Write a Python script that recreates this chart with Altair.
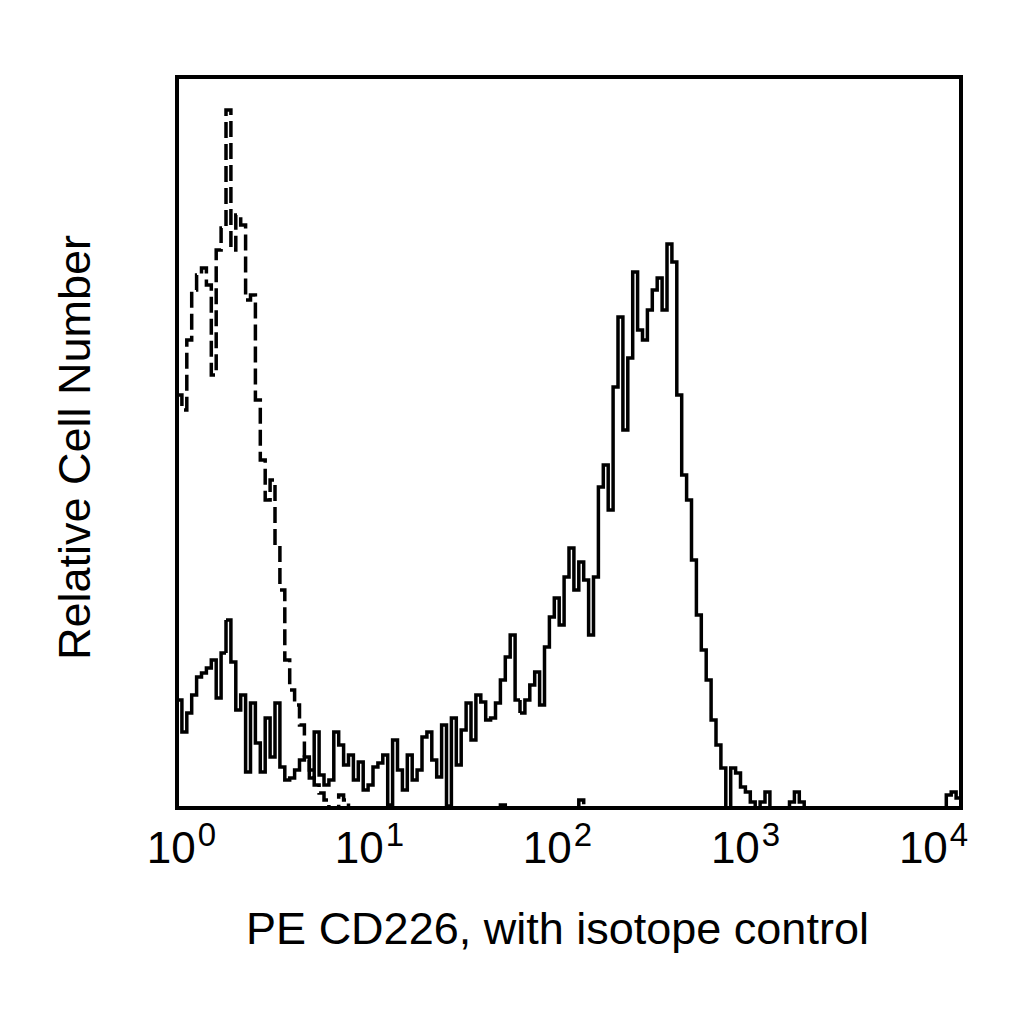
import altair as alt
import numpy as np
import pandas as pd

# 160 channels over four decades (40 per decade), heights
cd226 = [
    108, 76, 95, 113, 131, 135, 140, 148, 110, 155,
    188, 146, 98, 113, 36, 105, 65, 36, 90, 51,
    105, 41, 28, 30, 38, 48, 51, 30, 76, 33,
    23, 28, 76, 63, 43, 53, 28, 46, 18, 23,
    41, 45, 53, 3, 68, 38, 18, 53, 28, 38,
    71, 76, 48, 31, 83, 2, 90, 43, 78, 105,
    68, 113, 106, 88, 90, 105, 128, 151, 173, 108,
    95, 108, 123, 136, 103, 161, 191, 210, 183, 231,
    260, 218, 246, 228, 173, 231, 321, 343, 298, 421,
    491, 378, 450, 536, 478, 468, 498, 518, 530, 498,
    564, 546, 413, 333, 308, 248, 193, 158, 128, 88,
    63, 40, 0, 40, 35, 21, 16, 6, 0, 6,
    16, 0, 0, 0, 0, 6, 16, 6, 0, 0,
    0, 0, 0, 0, 0, 0, 0, 0, 0, 0,
    0, 0, 0, 0, 0, 0, 0, 0, 0, 0,
    0, 0, 0, 0, 0, 0, 0, 13, 16, 10,
]
isotype = [
    413, 398, 468, 518, 533, 540, 523, 433, 558, 580,
    698, 558, 593, 583, 508, 513, 408, 348, 308, 328,
    263, 218, 148, 118, 103, 83, 48, 38, 23, 15,
    8, 0, 0, 13, 8, 0, 0, 0, 0, 0,
    0, 0, 0, 0, 0, 0, 0, 0, 0, 0,
    0, 0, 0, 0, 0, 0, 0, 0, 0, 0,
    0, 0, 0, 0, 0, 0, 3, 0, 0, 0,
    0, 0, 0, 0, 0, 0, 0, 0, 0, 0,
    0, 0, 8, 0, 0, 0, 0, 0, 0, 0,
] + [0] * 70

tick_exps = [0, 1, 2, 3, 4]
tick_sups = ["0", "1", "2", "3", "4"]

FONT = "Liberation Sans, Arial, Helvetica, sans-serif"
NARROW = "Liberation Sans Narrow, Arial Narrow, Liberation Sans, sans-serif"

edges = 10 ** (np.arange(len(cd226) + 1) / 40)


def step_frame(counts, name):
    return pd.DataFrame({"pe": edges, "count": list(counts) + [counts[-1]], "series": name})


hist = pd.concat([step_frame(isotype, "Isotype control"), step_frame(cd226, "PE CD226")])
ticks = pd.DataFrame({"exp": tick_exps, "base": "10", "sup": tick_sups})

lines = (
    alt.Chart(hist)
    .mark_line(interpolate="step-after", strokeWidth=3.5, color="black", clip=True)
    .encode(
        x=alt.X(
            "pe:Q",
            scale=alt.Scale(type="log", domain=[1, 10000], nice=False),
            axis=alt.Axis(
                title="PE CD226, with isotope control",
                labels=False, ticks=False, domain=False, grid=False,
                titleFont=FONT, titleFontSize=45, titleFontWeight="normal",
                titleColor="black", titleBaseline="alphabetic",
                titleX=380, titleY=135,
            ),
        ),
        y=alt.Y(
            "count:Q",
            scale=alt.Scale(domain=[0, 731], nice=False),
            axis=alt.Axis(
                title="Relative Cell Number",
                labels=False, ticks=False, domain=False, grid=False,
                titleFont=FONT, titleFontSize=45, titleFontWeight="normal",
                titleColor="black", titleBaseline="alphabetic", titleAngle=-90,
                titleX=-88, titleY=370,
            ),
        ),
        strokeDash=alt.StrokeDash(
            "series:N",
            scale=alt.Scale(domain=["PE CD226", "Isotype control"], range=[[1, 0], [16, 6]]),
            legend=None,
        ),
        detail="series:N",
    )
)

lab_x = alt.X("exp:Q", scale=alt.Scale(domain=[-0.1, 4.07], nice=False), axis=None)

base = (
    alt.Chart(ticks)
    .mark_text(align="right", baseline="alphabetic", fontSize=44, font=NARROW, color="black")
    .encode(x=lab_x, y=alt.value(786), text="base:N")
)
sup = (
    alt.Chart(ticks)
    .mark_text(align="left", baseline="alphabetic", fontSize=33, font=NARROW, color="black", dx=2)
    .encode(x=lab_x, y=alt.value(769), text="sup:N")
)

chart = (
    alt.layer(lines, base, sup)
    .resolve_scale(x="independent")
    .properties(
        width=784,
        height=731,
        autosize=alt.AutoSizeParams(type="none"),
        padding={"left": 169, "top": 69, "right": 55, "bottom": 208},
        background="white",
    )
    .configure_view(stroke="black", strokeWidth=4)
)

chart.save("out.html", embed_options={"renderer": "svg", "actions": False})
